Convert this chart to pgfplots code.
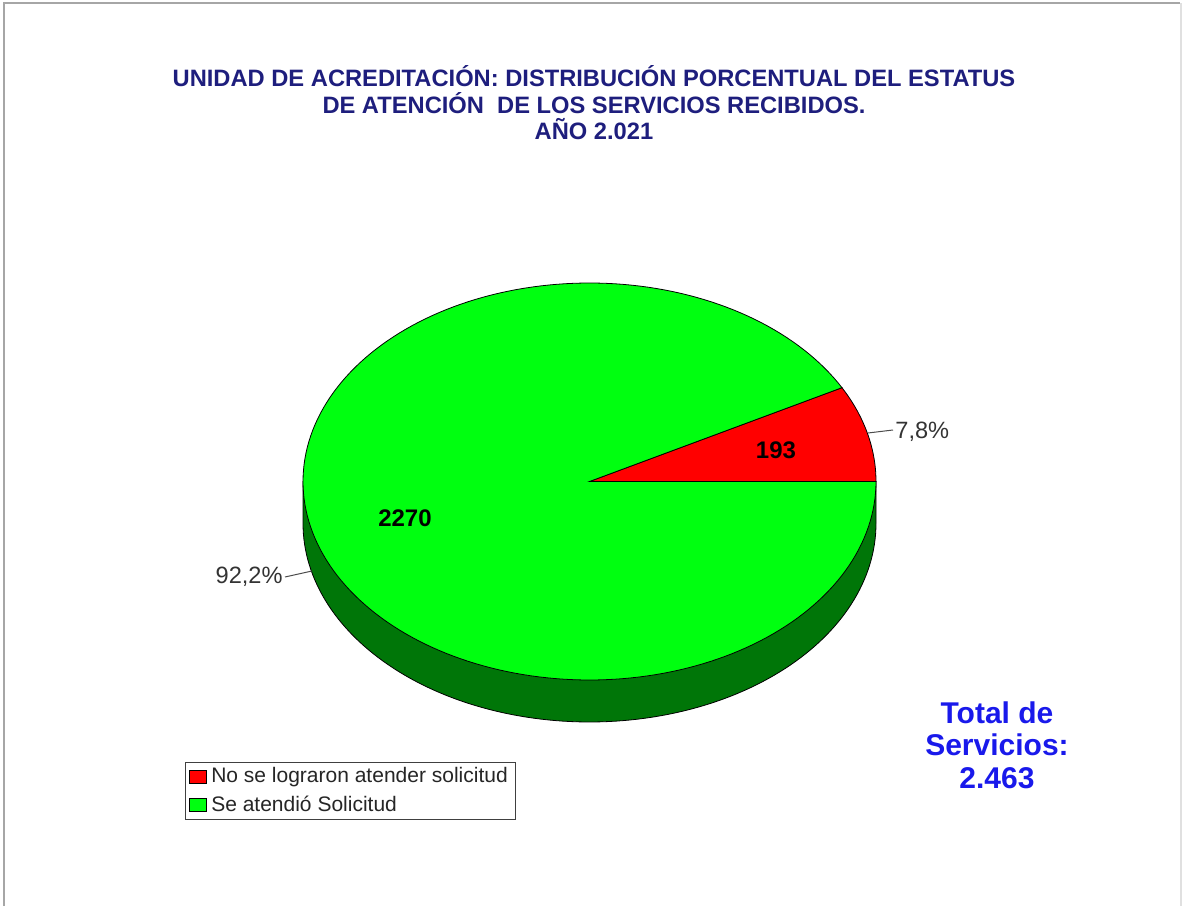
\documentclass[border=0pt]{standalone}
\usepackage{fontspec}
\setmainfont{Liberation Sans}
\usepackage{pgfplots}
\usepackage{pgfplotstable}
\pgfplotsset{compat=1.18}
\definecolor{titleblue}{RGB}{30,30,125}
\definecolor{totalblue}{RGB}{25,25,235}
\definecolor{pieGreen}{RGB}{0,255,16}
\definecolor{pieDark}{RGB}{0,118,8}
\definecolor{pieRed}{RGB}{255,0,0}
\pgfplotsset{pielegend/.style={legend image code/.code={\draw[##1] (0bp,-3.2bp) rectangle (8.5bp,3.2bp);}}}

\pgfplotstableread{
status value
NoAtendida 193
Atendida 2270
}\piedata
\pgfplotstablegetelem{0}{value}\of\piedata \let\vA\pgfplotsretval
\pgfplotstablegetelem{1}{value}\of\piedata \let\vB\pgfplotsretval
\pgfmathsetmacro\angA{360*(\vA/(\vA+\vB))}

\begin{document}
\begin{tikzpicture}
\begin{axis}[
  width=591.5bp, height=453bp, scale only axis,
  xmin=0, xmax=1183, ymin=0, ymax=906,
  hide axis, clip=false,
  legend cell align=left,
  legend style={at={(axis cs:185,144)}, anchor=north west,
    draw=black!75, line width=0.5pt, fill=white,
    font=\fontsize{10.5bp}{12bp}\selectfont\color{black!85},
    inner xsep=2bp, inner ysep=0.5bp, row sep=1bp,
    /tikz/every even column/.append style={column sep=1bp}},
]
% page extent and frame
\path (axis cs:0,0) rectangle (axis cs:1183,906);
\draw[black!35, line width=1.2pt] (axis cs:4,0) -- (axis cs:4,903) -- (axis cs:1180,903);
\draw[black!12, line width=0.8pt] (axis cs:1181,903) -- (axis cs:1181,0);

% side of the pie
\addplot[fill=pieDark, draw=black, line width=0.4pt, domain=180:360, samples=120,
  variable=\t, forget plot]
  ({589.5+286.5*cos(\t)},{382.5+198.5*sin(\t)})
  -- (axis cs:876,424.5) -- (axis cs:303,424.5) -- cycle;

% red slice
\addplot[fill=pieRed, draw=black, line width=0.4pt, domain=0:\angA, samples=40,
  variable=\t, pielegend]
  ({589.5+286.5*cos(\t)},{424.5+198.5*sin(\t)})
  -- (axis cs:589.5,424.5) -- cycle;
\addlegendentry{No se lograron atender solicitud}

% green slice
\addplot[fill=pieGreen, draw=black, line width=0.4pt, domain=\angA:360, samples=200,
  variable=\t, pielegend]
  ({589.5+286.5*cos(\t)},{424.5+198.5*sin(\t)})
  -- (axis cs:589.5,424.5) -- cycle;
\addlegendentry{Se atendió Solicitud}

% title
\node[align=center, text=titleblue, font=\fontsize{11.85bp}{13.3bp}\selectfont\bfseries]
  at (axis cs:594,803) {UNIDAD DE ACREDITACIÓN: DISTRIBUCIÓN PORCENTUAL DEL ESTATUS\\
  DE ATENCIÓN\ \ DE LOS SERVICIOS RECIBIDOS.\\ AÑO 2.021};

% value labels
\node[font=\fontsize{12bp}{14bp}\selectfont\bfseries] at (axis cs:776,456) {193};
\node[font=\fontsize{12bp}{14bp}\selectfont\bfseries] at (axis cs:405,388) {2270};

% percentage labels with leaders
\draw[black!70, line width=0.5pt] (axis cs:868,473) -- (axis cs:893,476);
\node[anchor=west, inner sep=1bp, text=black!80, font=\fontsize{11.8bp}{14bp}\selectfont] at (axis cs:893,474) {7,8\%};
\draw[black!70, line width=0.5pt] (axis cs:312,335) -- (axis cs:285,329);
\node[anchor=east, inner sep=1bp, text=black!80, font=\fontsize{11.8bp}{14bp}\selectfont] at (axis cs:285,329) {92,2\%};

% total
\node[align=center, text=totalblue, font=\fontsize{15bp}{16.3bp}\selectfont\bfseries]
  at (axis cs:997,161) {Total de\\ Servicios:\\ 2.463};
\end{axis}
\end{tikzpicture}
\end{document}
